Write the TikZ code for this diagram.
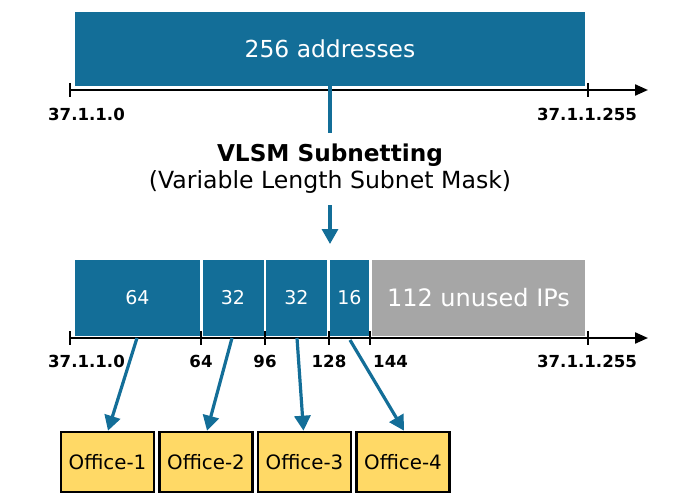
\documentclass[tikz,border=0pt]{standalone}
\usepackage{fontspec}
\setmainfont{DejaVu Sans}
\usetikzlibrary{arrows.meta}
\definecolor{vblue}{RGB}{19,110,152}
\definecolor{vgrey}{RGB}{166,166,166}
\definecolor{vyellow}{RGB}{255,217,102}
\tikzset{
  blk/.style={fill=vblue, draw=none, inner sep=0pt, text=white, font=\fontsize{19}{21}\selectfont},
  gblk/.style={fill=vgrey, draw=none, inner sep=0pt, text=white, font=\fontsize{24}{26}\selectfont},
  axisline/.style={line width=2.2pt, -{Triangle[length=13pt,width=11pt]}},
  tickline/.style={line width=2.2pt},
  lbl/.style={font=\bfseries\fontsize{16.6}{18}\selectfont, inner sep=0pt},
  bluearrow/.style={vblue, line width=3.2pt, -{Triangle[length=15pt,width=16pt]}},
  office/.style={fill=vyellow, draw=black, line width=2.6pt, minimum width=93pt, minimum height=60pt, inner sep=0pt, font=\fontsize{19.8}{21}\selectfont}
}
\begin{document}
\begin{tikzpicture}[x=1pt,y=-1pt]
\useasboundingbox (0,0) rectangle (677,500);
% top block
\node[blk, minimum width=510pt, minimum height=74pt, font=\fontsize{23.4}{25}\selectfont] (all) at (330,49) {256 addresses};
\coordinate (a0) at (69,90);
\coordinate (a1) at (648,90);
\draw[axisline] (a0) -- (a1);
\draw[tickline] (70,83) -- (70,97);
\draw[tickline] (588,83) -- (588,97);
\node[lbl] (t0) at (86.5,114) {37.1.1.0};
\node[lbl] (t1) at (587,114) {37.1.1.255};
% title
\node[font=\bfseries\fontsize{23.2}{25}\selectfont, inner sep=0pt] (title) at (330,155) {VLSM Subnetting};
\node[font=\fontsize{23.6}{25}\selectfont, inner sep=0pt] (sub) at (330,182) {(Variable Length Subnet Mask)};
\draw[vblue, line width=3.2pt] (all.south) -- (330,133);
\coordinate (tip) at (330,244);
\draw[bluearrow] (330,205) -- (tip);
% lower blocks
\node[blk, minimum width=125pt, minimum height=76pt] (b1) at (137.5,298) {64};
\node[blk, minimum width=61pt, minimum height=76pt] (b2) at (233,298) {32};
\node[blk, minimum width=61pt, minimum height=76pt] (b3) at (296.5,298) {32};
\node[blk, minimum width=39pt, minimum height=76pt] (b4) at (349.5,298) {16};
\node[gblk, minimum width=213pt, minimum height=76pt] (b5) at (478.5,298) {112 unused IPs};
\coordinate (c0) at (69,338);
\coordinate (c1) at (648,338);
\draw[axisline] (c0) -- (c1);
\foreach \x in {70,201,265,329,370,588} \draw[tickline] (\x,331) -- (\x,345);
\node[lbl] (u0) at (86.5,361) {37.1.1.0};
\node[lbl] (u1) at (201,361) {64};
\node[lbl] (u2) at (265,361) {96};
\node[lbl] (u3) at (329,361) {128};
\node[lbl, anchor=west] (u4) at (373,361) {144};
\node[lbl] (u5) at (587,361) {37.1.1.255};
% offices
\node[office] (o1) at (107.5,462) {Office-1};
\node[office] (o2) at (206,462) {Office-2};
\node[office] (o3) at (304.5,462) {Office-3};
\node[office] (o4) at (403,462) {Office-4};
\coordinate (s1) at (137,338);
\coordinate (s2) at (232,338);
\coordinate (s3) at (297,338);
\coordinate (s4) at (350,340);
\draw[bluearrow] (s1) -- ([xshift=0.5pt]o1.north);
\draw[bluearrow] (s2) -- ([xshift=1pt]o2.north);
\draw[bluearrow] (s3) -- ([xshift=-1pt]o3.north);
\draw[bluearrow] (s4) -- ([xshift=1pt]o4.north);
\end{tikzpicture}
\end{document}
